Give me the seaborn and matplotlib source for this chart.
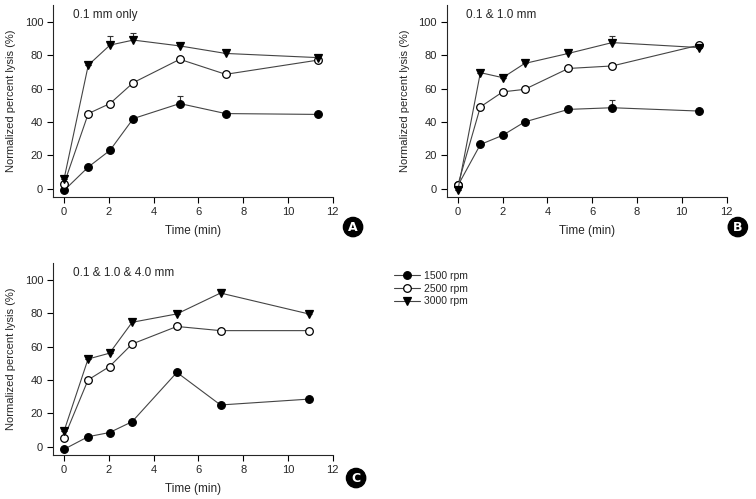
import numpy as np
import pandas as pd
import seaborn as sns
import matplotlib.pyplot as plt
from matplotlib.lines import Line2D

# ---------------- datos ----------------
rpm_labels = ['1500 rpm', '2500 rpm', '3000 rpm']
panel_titles = ['0.1 mm only', '0.1 & 1.0 mm', '0.1 & 1.0 & 4.0 mm']
panel_letters = ['A', 'B', 'C']

time_a = [0, 1.08, 2.05, 3.09, 5.17, 7.22, 11.34]
lysis_a_1500 = [-1, 13, 23, 42, 51, 45, 44.5]
lysis_a_2500 = [3, 45, 51, 63.5, 77.5, 68.5, 77]
lysis_a_3000 = [6, 74, 86, 89, 85.5, 81, 78.5]
err_a_1500 = [0, 0, 0, 0, 4.5, 0, 0]
err_a_2500 = [0, 0, 0, 0, 0, 0, 0]
err_a_3000 = [0, 0, 5.5, 4, 0, 0, 0]

time_b = [0, 1.0, 2.0, 2.98, 4.93, 6.89, 10.79]
lysis_b_1500 = [2, 26.5, 32, 40, 47.5, 48.5, 46.5]
lysis_b_2500 = [2.5, 49, 58, 59.5, 72, 73.5, 86]
lysis_b_3000 = [-0.5, 69.5, 66.5, 75, 81, 87.5, 84.5]
err_b_1500 = [0, 0, 0, 0, 0, 4.5, 0]
err_b_2500 = [0, 0, 0, 0, 0, 2, 0]
err_b_3000 = [0, 0, 0, 0, 0, 4, 0]

time_c = [0, 1.07, 2.03, 3.04, 5.04, 6.99, 10.93]
lysis_c_1500 = [-1.5, 6, 8.5, 15, 44.5, 25, 28.5]
lysis_c_2500 = [5.5, 40, 48, 61.5, 72, 69.5, 69.5]
lysis_c_3000 = [9.5, 52.5, 56, 74.5, 79.5, 92, 79.5]
err_c_1500 = [0, 0, 0, 0, 0, 0, 0]
err_c_2500 = [0, 0, 0, 0, 0, 0, 0]
err_c_3000 = [0, 0, 0, 2, 0, 2.7, 2]

paneles = [
    (time_a, [lysis_a_1500, lysis_a_2500, lysis_a_3000], [err_a_1500, err_a_2500, err_a_3000]),
    (time_b, [lysis_b_1500, lysis_b_2500, lysis_b_3000], [err_b_1500, err_b_2500, err_b_3000]),
    (time_c, [lysis_c_1500, lysis_c_2500, lysis_c_3000], [err_c_1500, err_c_2500, err_c_3000]),
]

# ---------------- estilo ----------------
sns.set_theme(style='ticks')
plt.rcParams['font.family'] = ['Liberation Sans', 'DejaVu Sans']
plt.rcParams['axes.linewidth'] = 0.8
plt.rcParams['xtick.major.width'] = 0.8
plt.rcParams['ytick.major.width'] = 0.8

marker_style = {
    '1500 rpm': dict(marker='o', markerfacecolor='black'),
    '2500 rpm': dict(marker='o', markerfacecolor='white'),
    '3000 rpm': dict(marker='v', markerfacecolor='black'),
}

fig = plt.figure(figsize=(7.56, 4.99), dpi=100)
posiciones = [
    [0.070, 0.605, 0.370, 0.385],
    [0.591, 0.605, 0.370, 0.385],
    [0.070, 0.088, 0.370, 0.385],
]
letra_pos = [(0.467, 0.545), (0.976, 0.545), (0.471, 0.042)]

for i, (t, series, errs) in enumerate(paneles):
    ax = fig.add_axes(posiciones[i])
    for label, y, e in zip(rpm_labels, series, errs):
        df = pd.DataFrame({'Tiempo': t, 'Lisis': y})
        # barras de error (solo hacia arriba)
        ax.errorbar(t, y, yerr=[np.zeros(len(e)), e], fmt='none',
                    ecolor='#333333', elinewidth=0.8, capsize=2.5, capthick=0.8, zorder=1)
        sns.lineplot(data=df, x='Tiempo', y='Lisis', ax=ax, color='#444444',
                     linewidth=0.8, markersize=5.5, markeredgecolor='black',
                     markeredgewidth=0.9, zorder=3, **marker_style[label])
    ax.set_xlim(-0.5, 12)
    ax.set_ylim(-5, 110)
    ax.set_xticks(range(0, 13, 2))
    ax.set_yticks(range(0, 101, 20))
    ax.tick_params(labelsize=8, length=4, color='black', pad=3)
    ax.spines['top'].set_visible(False)
    ax.spines['right'].set_visible(False)
    ax.spines['left'].set_bounds(-5, 110)
    ax.set_xlabel('Time (min)', fontsize=8.5, labelpad=6)
    ax.set_ylabel('Normalized percent lysis (%)', fontsize=8, labelpad=6)
    ax.text(0.07, 0.95, panel_titles[i], transform=ax.transAxes, fontsize=8.5,
            va='center', ha='left')
    fig.text(letra_pos[i][0], letra_pos[i][1], panel_letters[i], color='white',
             fontsize=9, fontweight='bold', ha='center', va='center',
             family='DejaVu Sans',
             bbox=dict(boxstyle='circle,pad=0.25', fc='black', ec='black'))

# leyenda comun
handles = [Line2D([0], [0], color='#444444', linewidth=0.8, markersize=5.5,
                  markeredgecolor='black', markeredgewidth=0.9, **marker_style[l])
           for l in rpm_labels]
fig.legend(handles, rpm_labels, loc='upper left', bbox_to_anchor=(0.515, 0.465),
           frameon=False, fontsize=7.5, handlelength=2.5, handletextpad=0.4,
           labelspacing=0.25, borderaxespad=0)

fig.savefig('out.png', dpi=100)
